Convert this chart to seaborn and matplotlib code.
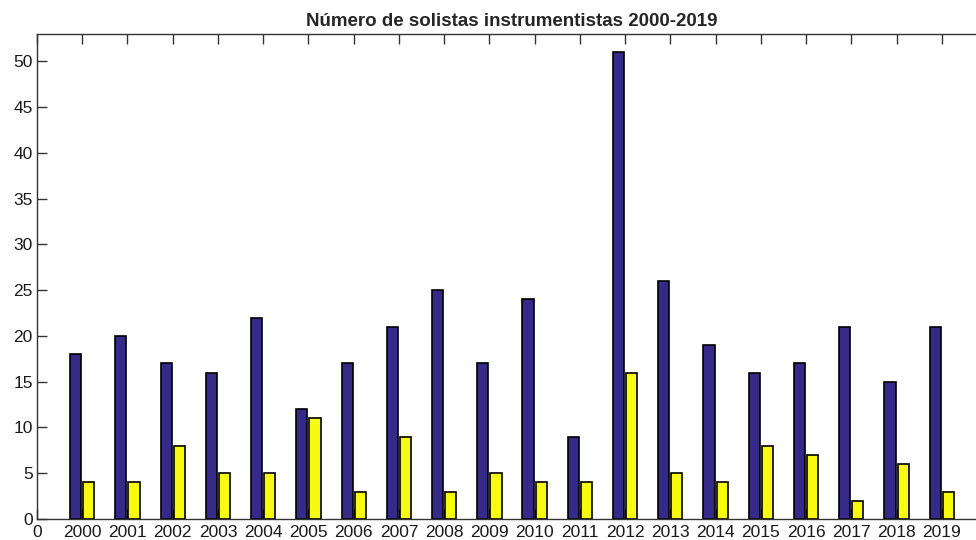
import matplotlib
matplotlib.use("Agg")
import matplotlib.pyplot as plt
import seaborn as sns
import pandas as pd
import numpy as np

years = ["2000", "2001", "2002", "2003", "2004", "2005", "2006", "2007", "2008", "2009",
         "2010", "2011", "2012", "2013", "2014", "2015", "2016", "2017", "2018", "2019"]
serie_a = [18, 20, 17, 16, 22, 12, 17, 21, 25, 17, 24, 9, 51, 26, 19, 16, 17, 21, 15, 21]
serie_b = [4, 4, 8, 5, 5, 11, 3, 9, 3, 5, 4, 4, 16, 5, 4, 8, 7, 2, 6, 3]
title = "Número de solistas instrumentistas 2000-2019"

sns.set_style("white")
plt.rcParams['font.family'] = ['Liberation Sans', 'DejaVu Sans']

pos = np.arange(1, len(years) + 1)
df = pd.DataFrame({
    "pos": np.concatenate([pos, pos]),
    "valor": serie_a + serie_b,
    "serie": ["A"] * len(years) + ["B"] * len(years),
})

fig = plt.figure(figsize=(9.76, 5.4), dpi=100)
ax = fig.add_axes([37 / 976, 21 / 540, (987 - 37) / 976, (519 - 34) / 540])

sns.barplot(data=df, x="pos", y="valor", hue="serie", native_scale=True,
            palette=["#352A87", "#F9FB0E"], saturation=1, width=0.58, gap=0.15,
            edgecolor="black", linewidth=1.2, legend=False, ax=ax, errorbar=None)

ax.set_xlim(0, 21)
ax.set_ylim(0, 53)
ax.set_xticks(range(0, 21))
ax.set_xticklabels(["0"] + years)
ax.set_yticks(range(0, 51, 5))
ax.set_xlabel("")
ax.set_ylabel("")
ax.tick_params(direction="in", length=7, width=1, color="#333333",
               top=True, right=True, bottom=True, left=True,
               labelsize=12.5, labelcolor="#1a1a1a", pad=4)
ax.tick_params(axis="y", pad=3)
for s in ax.spines.values():
    s.set_visible(True)
    s.set_color("#333333")
    s.set_linewidth(1.0)
ax.set_title(title, fontsize=13.5, fontweight="bold", pad=6)

fig.savefig("out.png", dpi=100)
